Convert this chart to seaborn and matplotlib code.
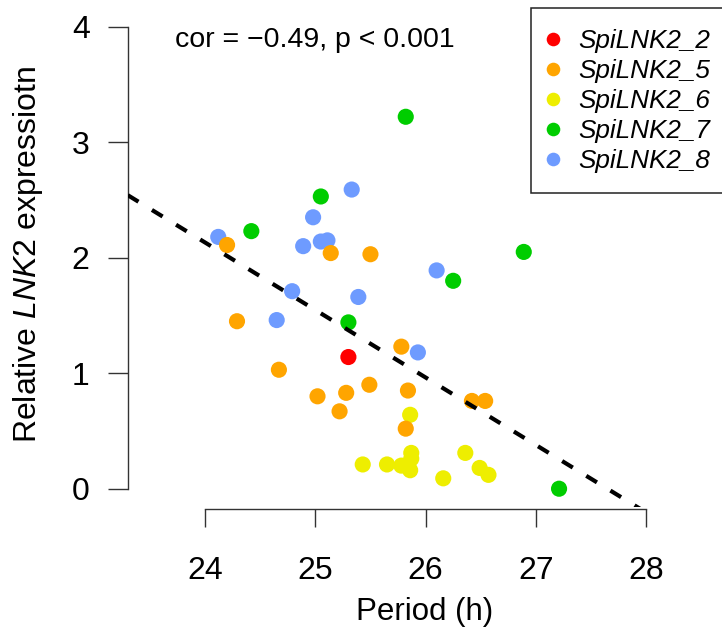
import numpy as np
import pandas as pd
import matplotlib
matplotlib.use("Agg")
import matplotlib.pyplot as plt
from matplotlib.lines import Line2D
import seaborn as sns

# ---------------- data ----------------
groups = ["SpiLNK2_2", "SpiLNK2_5", "SpiLNK2_6", "SpiLNK2_7", "SpiLNK2_8"]
colors = ["#FF0000", "#FFA500", "#EEEE00", "#00CD00", "#6E9BFF"]

period_2 = [25.30]
expr_2 = [1.14]
period_5 = [24.20, 25.14, 25.50, 25.78, 24.29, 24.67, 25.02, 25.28, 25.49, 25.22, 25.84, 25.82, 26.42, 26.54]
expr_5 = [2.11, 2.04, 2.03, 1.23, 1.45, 1.03, 0.80, 0.83, 0.90, 0.67, 0.85, 0.52, 0.76, 0.76]
period_6 = [25.86, 25.43, 25.65, 25.78, 25.87, 25.87, 25.86, 26.16, 26.36, 26.49, 26.57]
expr_6 = [0.64, 0.21, 0.21, 0.20, 0.31, 0.26, 0.16, 0.09, 0.31, 0.18, 0.12]
period_7 = [25.82, 25.05, 24.42, 26.89, 26.25, 25.30, 27.21]
expr_7 = [3.22, 2.53, 2.23, 2.05, 1.80, 1.44, 0.00]
period_8 = [25.33, 24.98, 24.12, 24.89, 25.05, 25.11, 26.10, 25.39, 25.93, 24.65, 24.79]
expr_8 = [2.59, 2.35, 2.18, 2.10, 2.14, 2.15, 1.89, 1.66, 1.18, 1.46, 1.71]

# fitted regression line
fit_intercept = 16.16
fit_slope = -0.5845

x_ticks = [24, 25, 26, 27, 28]
y_ticks = [0, 1, 2, 3, 4]
annotation = "cor = \u22120.49, p < 0.001"

periods = [period_2, period_5, period_6, period_7, period_8]
exprs = [expr_2, expr_5, expr_6, expr_7, expr_8]
df = pd.concat(
    [pd.DataFrame({"period": p, "expr": e, "line": g}) for g, p, e in zip(groups, periods, exprs)],
    ignore_index=True,
)
# drawing order: last group first (orange ends up on top of blue/yellow)
df["order"] = df["line"].map({g: i for i, g in enumerate(groups)})
df = df.sort_values("order", ascending=False, kind="stable")
palette = dict(zip(groups, colors))

# ---------------- styling ----------------
sns.set_style("white")
plt.rcParams["font.family"] = ["Liberation Sans", "DejaVu Sans"]
plt.rcParams["mathtext.fontset"] = "custom"
plt.rcParams["mathtext.rm"] = "Liberation Sans"
plt.rcParams["mathtext.it"] = "Liberation Sans:italic"
plt.rcParams["lines.scale_dashes"] = False
plt.rcParams["text.color"] = "black"
plt.rcParams["legend.labelcolor"] = "black"

W, H = 722, 631
fig = plt.figure(figsize=(W / 100, H / 100), dpi=100)

def fx(px):
    return px / W

def fy(py):
    return 1 - py / H

left, right, top, bottom = 127.8, 723.4, 8.2, 507.2
ax = fig.add_axes([fx(left), fy(bottom), (right - left) / W, (bottom - top) / H])

sns.scatterplot(
    data=df, x="period", y="expr", hue="line", palette=palette,
    s=135, linewidth=0, legend=False, ax=ax, zorder=3,
)

ax.set_xlim(23.3, 28.7)
ax.set_ylim(-0.16, 4.16)

# regression line, drawn across the plotting region
xs = np.array(ax.get_xlim())
ax.plot(xs, fit_intercept + fit_slope * xs, color="black", lw=3.0,
        dashes=(9.0, 11.37), dash_capstyle="butt", zorder=4)

# axes styling (R-like detached axes)
for s in ["top", "right"]:
    ax.spines[s].set_visible(False)
spine_col = "#333333"
ax.spines["left"].set_bounds(0, 4)
ax.spines["bottom"].set_bounds(24, 28)
ax.spines["bottom"].set_position(("outward", 1.2))
for s in ["left", "bottom"]:
    ax.spines[s].set_color(spine_col)
    ax.spines[s].set_linewidth(1.0)

ax.set_xticks(x_ticks)
ax.set_yticks(y_ticks)
ax.set_xticklabels([str(t) for t in x_ticks])
ax.set_yticklabels([str(t) for t in y_ticks])
ax.tick_params(axis="x", bottom=True, direction="out", length=13.0, width=1.0, color=spine_col,
               labelsize=23, pad=21.0, labelcolor="black")
ax.tick_params(axis="y", left=True, direction="out", length=14.4, width=1.0, color=spine_col,
               labelsize=23, pad=13.0, labelcolor="black")
ax.set_xlabel("")
ax.set_ylabel("")
ax.patch.set_alpha(0)

# axis titles
fig.text(fx(425), fy(612), "Period (h)", ha="center", va="center", fontsize=22.5)
fig.text(fx(28), fy(254), r"Relative $\mathit{LNK2}$ expressiotn", rotation=90,
         ha="center", va="center", fontsize=23)

# correlation annotation
fig.text(fx(175), fy(40), annotation, ha="left", va="center", fontsize=20.5)

# legend
handles = [Line2D([], [], marker="o", ls="", color=c, markersize=9.8, markeredgewidth=0)
           for c in colors]
leg = fig.legend(
    handles, groups, loc="upper left",
    bbox_to_anchor=(fx(530.7), fy(8.3)), bbox_transform=fig.transFigure,
    prop={"style": "italic", "size": 18.8, "family": "Liberation Sans"},
    frameon=True, fancybox=False, borderpad=0.78, handlelength=0.15,
    handletextpad=0.90, labelspacing=0.23, borderaxespad=0,
)
leg.get_frame().set_edgecolor("#222222")
leg.get_frame().set_linewidth(1.1)
leg.get_frame().set_facecolor("white")
leg.get_frame().set_alpha(1)

fig.savefig("out.png", dpi=100)
